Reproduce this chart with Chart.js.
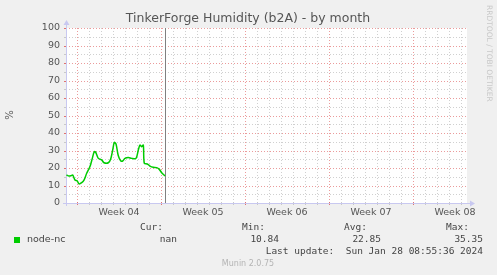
<!DOCTYPE html>
<html>
<head>
<meta charset="utf-8">
<script src="https://cdn.jsdelivr.net/npm/chart.js@4/dist/chart.umd.min.js"></script>
<style>
  html, body { margin: 0; padding: 0; background: #f0f0f0; }
  #wrap { width: 497px; height: 275px; position: relative; }
</style>
</head>
<body>
<div id="wrap"><canvas id="c" width="497" height="275"></canvas></div>
<script>
// ---- data (x = days since start of "Week 04") ----
const dayOffsets = [-0.875, -0.667, -0.5, -0.358, -0.167, 0.025, 0.167, 0.392, 0.583, 0.808,
  1.083, 1.275, 1.442, 1.558, 1.775, 2.058, 2.25, 2.608, 2.808, 2.975,
  3.108, 3.25, 3.442, 3.642, 3.808, 4.0, 4.275, 4.558, 4.917, 5.108,
  5.25, 5.392, 5.525, 5.608, 5.858, 6.083, 6.358, 6.642, 6.858, 7.058, 7.25, 7.333];
const humidity = [16, 15.4, 15.6, 16, 13.1, 12.6, 10.9, 11.6, 13.1, 17,
  20.8, 25.5, 29.3, 29, 25.5, 24.6, 23, 23, 25.2, 30.3,
  34.6, 33.7, 27, 24.2, 24, 25.5, 26, 25.5, 25.5, 30.3,
  33.1, 32.2, 33.1, 22.7, 22.3, 21.1, 20.4, 20.2, 19.2, 17.3, 16, 15.5];
const weekLabels = ["Week 04", "Week 05", "Week 06", "Week 07", "Week 08"];
const weekStarts = [0, 7, 14, 21, 28];
const nowDay = 7.33;
const xMin = -0.917, xMax = 32.5;
const yMin = 0, yMax = 100;
const seriesName = "node-nc";
const legendHeaders = ["Cur:", "Min:", "Avg:", "Max:"];
const legendValues = ["nan", "10.84", "22.85", "35.35"];
const lastUpdate = "Last update:  Sun Jan 28 08:55:36 2024";
const titleText = "TinkerForge Humidity (b2A) - by month";
const yTitle = "%";
const sideText = "RRDTOOL / TOBI OETIKER";
const footer = "Munin 2.0.75";

const GREEN = "#00cc00";

const munin = {
  id: "munin",
  beforeDraw(chart) {
    const ctx = chart.ctx, a = chart.chartArea;
    ctx.save();
    ctx.fillStyle = "#f0f0f0";
    ctx.fillRect(0, 0, chart.width, chart.height);
    ctx.fillStyle = "#ffffff";
    ctx.fillRect(a.left, a.top, a.right - a.left, a.bottom - a.top);
    ctx.restore();
  },
  beforeDatasetsDraw(chart) {
    const ctx = chart.ctx, a = chart.chartArea;
    const xs = chart.scales.x, ys = chart.scales.y;
    ctx.save();
    ctx.lineWidth = 1;
    ctx.setLineDash([1, 2]);
    for (let d = Math.ceil(xMin); d <= xMax; d++) {
      const px = Math.round(xs.getPixelForValue(d)) + 0.5;
      const major = weekStarts.includes(d);
      ctx.strokeStyle = major ? "rgba(230,130,130,0.8)" : "#d0d0d0";
      ctx.beginPath(); ctx.moveTo(px, a.bottom); ctx.lineTo(px, a.top); ctx.stroke();
    }
    for (let v = 5; v <= yMax; v += 5) {
      const py = Math.round(ys.getPixelForValue(v)) + 0.5;
      ctx.strokeStyle = (v % 10 === 0) ? "rgba(230,130,130,0.8)" : "#d0d0d0";
      ctx.beginPath(); ctx.moveTo(a.left, py); ctx.lineTo(a.right, py); ctx.stroke();
    }
    ctx.setLineDash([]);
    for (let d = Math.ceil(xMin); d <= xMax; d++) {
      const px = Math.round(xs.getPixelForValue(d)) + 0.5;
      ctx.strokeStyle = weekStarts.includes(d) ? "#e07070" : "#c8c8c8";
      ctx.beginPath(); ctx.moveTo(px, a.bottom - 1); ctx.lineTo(px, a.bottom + 2); ctx.stroke();
    }
    for (let v = 5; v <= yMax; v += 5) {
      const py = Math.round(ys.getPixelForValue(v)) + 0.5;
      ctx.strokeStyle = (v % 10 === 0) ? "#e07070" : "#c8c8c8";
      ctx.beginPath(); ctx.moveTo(a.left - 2, py); ctx.lineTo(a.left + 1, py); ctx.stroke();
    }
    const nx = Math.round(xs.getPixelForValue(nowDay)) + 0.5;
    ctx.strokeStyle = "#808080";
    ctx.beginPath(); ctx.moveTo(nx, a.bottom); ctx.lineTo(nx, a.top); ctx.stroke();
    ctx.strokeStyle = "#c8c8f0"; ctx.fillStyle = "#c8c8f0";
    const ax = Math.round(a.left) + 0.5, ay = Math.round(a.bottom) + 0.5;
    ctx.beginPath(); ctx.moveTo(ax, a.bottom + 3); ctx.lineTo(ax, a.top - 4); ctx.stroke();
    ctx.beginPath(); ctx.moveTo(ax - 3, a.top - 3); ctx.lineTo(ax + 3, a.top - 3); ctx.lineTo(ax, a.top - 8); ctx.closePath(); ctx.fill();
    ctx.beginPath(); ctx.moveTo(a.left - 3, ay); ctx.lineTo(a.right + 4, ay); ctx.stroke();
    ctx.beginPath(); ctx.moveTo(a.right + 3, ay - 3); ctx.lineTo(a.right + 3, ay + 3); ctx.lineTo(a.right + 8, ay); ctx.closePath(); ctx.fill();
    ctx.restore();
  },
  afterDraw(chart) {
    const ctx = chart.ctx;
    ctx.save();
    ctx.textBaseline = "middle";
    ctx.fillStyle = "#555";
    ctx.font = "12.5px 'DejaVu Sans'";
    ctx.textAlign = "center";
    ctx.fillText(titleText, 248, 19);
    ctx.save();
    ctx.translate(10, 115); ctx.rotate(-Math.PI / 2);
    ctx.font = "10px 'DejaVu Sans'";
    ctx.fillText(yTitle, 0, 0);
    ctx.restore();
    ctx.save();
    ctx.translate(489, 5); ctx.rotate(Math.PI / 2);
    ctx.textAlign = "left";
    ctx.fillStyle = "#c8c8c8";
    ctx.font = "7.5px 'DejaVu Sans'";
    ctx.fillText(sideText, 0, 0);
    ctx.restore();
    ctx.fillStyle = GREEN;
    ctx.fillRect(14, 237, 6, 6);
    ctx.fillStyle = "#444";
    ctx.textAlign = "left";
    ctx.font = "9.5px 'DejaVu Sans'";
    ctx.fillText(seriesName, 27, 240);
    ctx.font = "9.5px 'DejaVu Sans Mono'";
    ctx.textAlign = "right";
    const hx = [163, 265, 367, 469], vx = [177, 279, 381, 483];
    legendHeaders.forEach((h, i) => ctx.fillText(h, hx[i], 228));
    legendValues.forEach((v, i) => ctx.fillText(v, vx[i], 240));
    ctx.fillText(lastUpdate, 483, 252);
    ctx.textAlign = "center";
    ctx.fillStyle = "#b4b4b4";
    ctx.font = "8px 'DejaVu Sans'";
    ctx.fillText(footer, 248, 264);
    ctx.restore();
  }
};

new Chart(document.getElementById("c"), {
  type: "line",
  data: {
    datasets: [{
      label: seriesName,
      data: dayOffsets.map((d, i) => ({ x: d, y: humidity[i] })),
      borderColor: GREEN,
      borderWidth: 1.5,
      pointRadius: 0,
      tension: 0.3,
      fill: false
    }]
  },
  options: {
    responsive: false,
    animation: false,
    devicePixelRatio: 1,
    layout: { padding: { top: 28, right: 30, left: 0, bottom: 0 } },
    plugins: { legend: { display: false }, title: { display: false }, tooltip: { enabled: false } },
    scales: {
      x: {
        type: "linear", min: xMin, max: xMax,
        grid: { display: false, drawTicks: false },
        border: { display: false },
        afterFit: s => { s.height = 72; },
        afterBuildTicks: s => { s.ticks = weekStarts.map(w => ({ value: w + 3.5 })); },
        ticks: {
          autoSkip: false, maxRotation: 0, padding: 4,
          color: "#555", font: { family: "DejaVu Sans", size: 9.5 },
          callback: (v) => weekLabels[weekStarts.indexOf(v - 3.5)]
        }
      },
      y: {
        type: "linear", min: yMin, max: yMax,
        grid: { display: false, drawTicks: false },
        border: { display: false },
        afterFit: s => { s.width = 66; },
        ticks: { stepSize: 10, padding: 6, color: "#555", font: { family: "DejaVu Sans", size: 9.5 } }
      }
    }
  },
  plugins: [munin]
});
</script>
</body>
</html>
